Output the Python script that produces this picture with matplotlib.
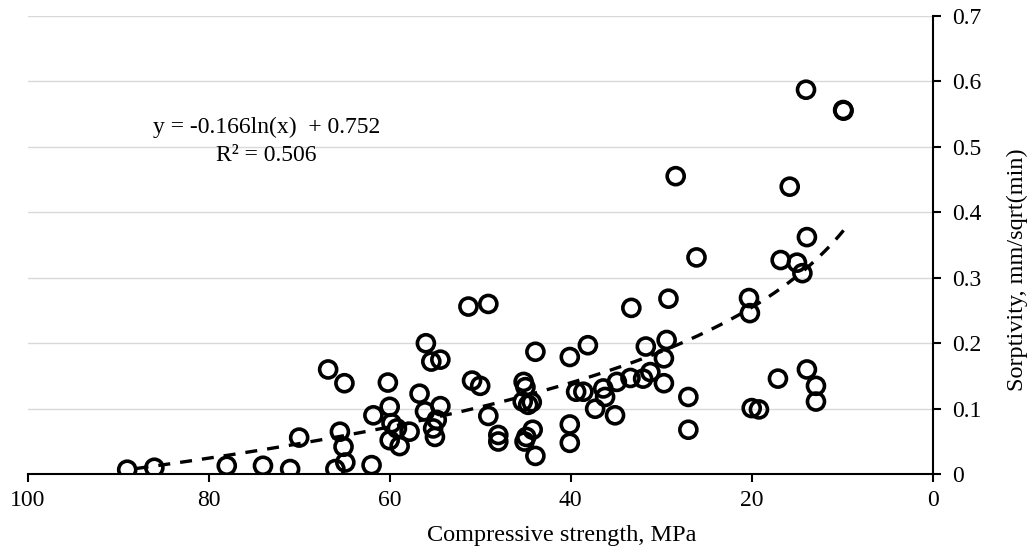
import numpy as np
import matplotlib
matplotlib.use("Agg")
import matplotlib.pyplot as plt

plt.rcParams["font.family"] = ["Liberation Serif", "DejaVu Serif"]

# Compressive strength (MPa) and sorptivity (mm/sqrt(min)) of each specimen
strength = [
    89.0, 86.0, 78.0, 74.0, 71.0, 70.0, 66.8, 66.0, 65.5, 65.0, 65.1, 64.9,
    62.0, 61.8, 60.2, 60.0, 59.8, 59.2, 60.0, 58.9, 57.8, 56.7, 56.1, 56.0,
    55.4, 54.4, 54.4, 54.8, 55.2, 55.0, 51.3, 49.1, 50.9, 50.0, 49.1, 48.0,
    48.0, 45.2, 45.0, 45.3, 44.7, 44.3, 43.9, 44.9, 45.1, 44.2, 43.9, 40.1,
    40.1, 40.1, 39.4, 38.6, 38.1, 37.3, 36.4, 36.2, 35.1, 34.9, 33.3, 33.4,
    32.0, 31.2, 31.7, 29.4, 29.7, 29.7, 29.2, 28.4, 27.0, 27.0, 26.1, 20.3,
    20.2, 20.0, 19.2, 17.1, 16.8, 15.8, 15.0, 14.4, 14.0, 13.9, 13.9, 12.9,
    12.9, 9.85, 9.9,
]
sorptivity = [
    0.007, 0.010, 0.013, 0.013, 0.008, 0.056, 0.160, 0.008, 0.065, 0.139, 0.042, 0.018,
    0.014, 0.090, 0.140, 0.103, 0.078, 0.070, 0.052, 0.043, 0.065, 0.123, 0.096, 0.200,
    0.172, 0.175, 0.104, 0.083, 0.070, 0.057, 0.256, 0.260, 0.143, 0.135, 0.089, 0.060,
    0.050, 0.141, 0.133, 0.111, 0.106, 0.110, 0.187, 0.057, 0.050, 0.068, 0.028, 0.179,
    0.076, 0.048, 0.126, 0.126, 0.197, 0.100, 0.131, 0.118, 0.090, 0.141, 0.254, 0.147,
    0.146, 0.156, 0.195, 0.205, 0.177, 0.139, 0.268, 0.455, 0.118, 0.068, 0.331, 0.269,
    0.246, 0.101, 0.099, 0.146, 0.327, 0.439, 0.323, 0.307, 0.587, 0.362, 0.160, 0.135,
    0.111, 0.555, 0.556,
]

# Logarithmic trend line coefficients
coef_a = -0.166
coef_b = 0.752
r_squared = 0.506

x_ticks = [0, 20, 40, 60, 80, 100]
y_ticks = [0, 0.1, 0.2, 0.3, 0.4, 0.5, 0.6, 0.7]

W, H = 1032, 552
fig = plt.figure(figsize=(W / 100, H / 100), dpi=100)
ax = fig.add_axes([0.0268, 0.1408, 0.877, 0.8308])

ax.scatter(strength, sorptivity, s=150, facecolors="none", edgecolors="black",
           linewidths=2.6, zorder=3)

xs = np.linspace(min(strength), max(strength), 300)
ax.plot(xs, coef_a * np.log(xs) + coef_b, color="black", lw=2.4,
        dashes=(3.6, 3.0), zorder=4)

ax.text(73.6, 0.530, f"y = {coef_a}ln(x)  + {coef_b}", ha="center", va="center",
        fontsize=17)
ax.text(73.6, 0.487, f"R² = {r_squared}", ha="center", va="center", fontsize=17)

ax.set_xlim(100, 0)
ax.set_ylim(0, 0.7)
ax.set_xticks(x_ticks)
ax.set_xticklabels([str(t) for t in x_ticks])
ax.set_yticks(y_ticks)
ax.set_yticklabels(["0"] + [f"{t:.1f}" for t in y_ticks[1:]])

ax.yaxis.tick_right()
ax.tick_params(axis="both", labelsize=17, length=6, width=1.5, color="black",
               direction="out")
ax.tick_params(axis="x", pad=5)
ax.tick_params(axis="y", pad=8)

for side in ("left", "top"):
    ax.spines[side].set_visible(False)
for side in ("bottom", "right"):
    ax.spines[side].set_linewidth(1.5)

ax.grid(axis="y", color="#d9d9d9", lw=1.0, zorder=0)
ax.set_axisbelow(True)

fig.text(562 / W, 1 - 536 / H, "Compressive strength, MPa", fontsize=17.5,
         ha="center", va="center")
fig.text(1017 / W, 1 - 270 / H, "Sorptivity, mm/sqrt(min)", fontsize=17.5,
         ha="center", va="center", rotation=90)

fig.savefig("out.png", dpi=100)
